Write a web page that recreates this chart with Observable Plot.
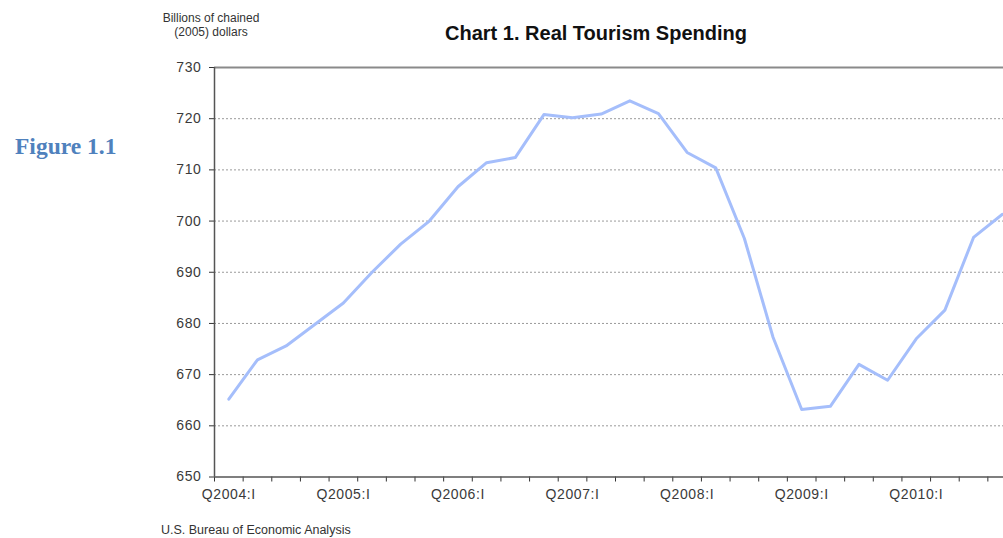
<!DOCTYPE html>
<html>
<head>
<meta charset="utf-8">
<script src="https://cdn.jsdelivr.net/npm/d3@7"></script>
<script src="https://cdn.jsdelivr.net/npm/@observablehq/plot@0.6"></script>
<style>
html, body { margin: 0; padding: 0; background: #fff; overflow: hidden; }
#wrap { position: relative; width: 1003px; height: 538px; overflow: hidden; font-family: "Liberation Sans", Arial, sans-serif; }
#chart { position: absolute; left: 0; top: 0; width: 1030px; height: 538px; }
#chart svg { max-width: none !important; }
.fig { position: absolute; left: 15px; top: 133px; font-family: "Liberation Serif", "Times New Roman", serif; font-weight: bold; font-size: 23.5px; line-height: 26px; color: #4F81BD; white-space: nowrap; }
.ylab { position: absolute; left: 150px; top: 11px; width: 122px; text-align: center; font-size: 12px; line-height: 14px; color: #333; }
.title { position: absolute; left: 396px; width: 400px; top: 22px; text-align: center; font-weight: bold; font-size: 20px; line-height: 22px; color: #111; white-space: nowrap; }
.caption { position: absolute; left: 161px; top: 523px; font-size: 12.5px; line-height: 14px; color: #333; white-space: nowrap; }
</style>
</head>
<body>
<div id="wrap">
  <div id="chart"></div>
  <div class="fig">Figure 1.1</div>
  <div class="ylab">Billions of chained<br>(2005) dollars</div>
  <div class="title">Chart 1. Real Tourism Spending</div>
  <div class="caption">U.S. Bureau of Economic Analysis</div>
</div>
<script>
const quarters = [
  "Q2004:I","Q2004:II","Q2004:III","Q2004:IV",
  "Q2005:I","Q2005:II","Q2005:III","Q2005:IV",
  "Q2006:I","Q2006:II","Q2006:III","Q2006:IV",
  "Q2007:I","Q2007:II","Q2007:III","Q2007:IV",
  "Q2008:I","Q2008:II","Q2008:III","Q2008:IV",
  "Q2009:I","Q2009:II","Q2009:III","Q2009:IV",
  "Q2010:I","Q2010:II","Q2010:III","Q2010:IV"
];
const spending = [
  665.2, 672.9, 675.6, 679.8,
  684.0, 690.0, 695.5, 700.0,
  706.7, 711.4, 712.4, 720.8,
  720.2, 720.9, 723.5, 721.0,
  713.4, 710.4, 696.6, 677.3,
  663.2, 663.8, 672.0, 668.9,
  677.0, 682.6, 696.8, 701.3
];
const yTicks = [650, 660, 670, 680, 690, 700, 710, 720, 730];
const gridTicks = [660, 670, 680, 690, 700, 710, 720];
const labelTicks = ["Q2004:I","Q2005:I","Q2006:I","Q2007:I","Q2008:I","Q2009:I","Q2010:I"];

const table = quarters.map((q, i) => ({i, q, v: spending[i]}));
const bounds = quarters.map((q, i) => i - 0.5).concat([quarters.length - 0.5]);
const labelIdx = labelTicks.map(l => quarters.indexOf(l));

const chart = Plot.plot({
  width: 1030,
  height: 538,
  marginLeft: 214,
  marginRight: 14,
  marginTop: 67,
  marginBottom: 61.5,
  style: {fontFamily: "'Liberation Sans', Arial, sans-serif", fontSize: "14px", color: "#3a3a3a", background: "transparent", letterSpacing: "0.6px", maxWidth: "none"},
  x: {domain: [-0.5, quarters.length - 0.5], axis: null},
  y: {domain: [650, 730], axis: null},
  marks: [
    Plot.gridY(gridTicks, {stroke: "#9a9a9a", strokeOpacity: 1, strokeDasharray: "2,2"}),
    Plot.ruleY([730], {stroke: "#8a8a8a", strokeWidth: 2}),
    Plot.axisY(yTicks, {anchor: "left", tickSize: 5, tickPadding: 8, label: null, stroke: "#333", fill: "#3a3a3a", fontSize: 14}),
    Plot.axisX(bounds, {anchor: "bottom", tickSize: 5, tickFormat: () => "", label: null, stroke: "#333"}),
    Plot.axisX(labelIdx, {anchor: "bottom", tickSize: 0, tickPadding: 12, tickFormat: i => quarters[i], label: null, fill: "#3a3a3a", fontSize: 14}),
    Plot.ruleX([-0.5], {stroke: "#555", strokeWidth: 1.5}),
    Plot.ruleY([650], {stroke: "#555", strokeWidth: 1.5}),
    Plot.line(table, {x: "i", y: "v", stroke: "#a5befb", strokeWidth: 3, strokeLinejoin: "round"})
  ]
});
document.getElementById("chart").appendChild(chart);
</script>
</body>
</html>
